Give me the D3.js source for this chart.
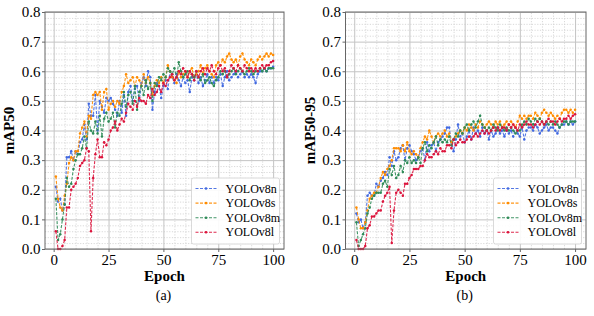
<!DOCTYPE html>
<html>
<head>
<meta charset="utf-8">
<script src="https://cdn.jsdelivr.net/npm/d3@7"></script>
<style>
  body { margin: 0; background: #fff; }
  svg { display: block; }
  text { font-family: "Liberation Serif", "Times New Roman", serif; fill: #000; }
</style>
</head>
<body>
<div id="viz"></div>
<script>
// Epochs 1..100
const epochs = d3.range(1, 101)
const seriesNames = ["YOLOv8n", "YOLOv8s", "YOLOv8m", "YOLOv8l"]
const seriesColors = ["#4169e1", "#ff8c00", "#2e8b57", "#dc143c"]
const xTicks = [0, 25, 50, 75, 100]
const yTicks = [0.0, 0.1, 0.2, 0.3, 0.4, 0.5, 0.6, 0.7, 0.8]

// (a) mAP50
const map50_n = [
  0.21,0.16,0.17,0.13,0.15,0.31,0.31,0.33,0.30,0.33,
  0.32,0.36,0.37,0.42,0.37,0.49,0.45,0.45,0.52,0.40,
  0.50,0.48,0.46,0.51,0.50,0.51,0.49,0.47,0.45,0.50,
  0.46,0.52,0.45,0.53,0.55,0.50,0.54,0.55,0.50,0.56,
  0.58,0.55,0.60,0.58,0.47,0.53,0.56,0.55,0.51,0.55,
  0.57,0.54,0.60,0.58,0.56,0.59,0.57,0.55,0.58,0.56,
  0.57,0.53,0.58,0.57,0.59,0.56,0.58,0.55,0.57,0.59,
  0.56,0.58,0.56,0.58,0.57,0.59,0.55,0.58,0.60,0.57,
  0.58,0.59,0.60,0.58,0.59,0.60,0.58,0.59,0.58,0.59,
  0.58,0.56,0.59,0.60,0.60,0.61,0.60,0.61,0.61,0.615
]
const map50_s = [
  0.245,0.17,0.14,0.13,0.18,0.22,0.29,0.31,0.30,0.33,
  0.33,0.39,0.41,0.43,0.38,0.45,0.44,0.52,0.53,0.52,
  0.53,0.47,0.53,0.54,0.47,0.49,0.50,0.48,0.50,0.49,
  0.53,0.55,0.59,0.56,0.57,0.58,0.55,0.58,0.57,0.55,
  0.59,0.56,0.58,0.56,0.52,0.55,0.57,0.56,0.58,0.56,
  0.58,0.62,0.60,0.58,0.57,0.56,0.60,0.58,0.59,0.60,
  0.58,0.60,0.61,0.58,0.59,0.60,0.62,0.59,0.61,0.62,
  0.60,0.59,0.58,0.62,0.63,0.62,0.64,0.63,0.65,0.66,
  0.64,0.63,0.64,0.62,0.65,0.66,0.64,0.63,0.62,0.64,
  0.63,0.62,0.64,0.65,0.64,0.65,0.66,0.65,0.66,0.655
]
const map50_m = [
  0.17,0.03,0.05,0.10,0.15,0.24,0.21,0.22,0.27,0.30,
  0.32,0.32,0.34,0.38,0.34,0.43,0.40,0.39,0.43,0.39,
  0.45,0.38,0.44,0.46,0.43,0.44,0.46,0.41,0.46,0.45,
  0.49,0.53,0.48,0.52,0.53,0.49,0.55,0.47,0.53,0.55,
  0.52,0.57,0.54,0.56,0.50,0.56,0.55,0.58,0.57,0.59,
  0.58,0.61,0.60,0.59,0.61,0.58,0.63,0.60,0.58,0.59,
  0.60,0.57,0.59,0.58,0.60,0.58,0.57,0.59,0.56,0.57,
  0.58,0.56,0.55,0.57,0.58,0.60,0.59,0.60,0.58,0.59,
  0.60,0.61,0.59,0.60,0.61,0.60,0.59,0.60,0.61,0.60,
  0.59,0.60,0.60,0.61,0.60,0.61,0.60,0.61,0.61,0.61
]
const map50_l = [
  0.06,0.00,0.00,0.01,0.03,0.14,0.14,0.20,0.21,0.22,
  0.24,0.28,0.29,0.30,0.34,0.33,0.06,0.24,0.32,0.37,
  0.31,0.31,0.36,0.35,0.37,0.40,0.41,0.43,0.40,0.42,
  0.44,0.43,0.46,0.49,0.48,0.47,0.50,0.48,0.51,0.50,
  0.50,0.49,0.52,0.51,0.54,0.52,0.53,0.55,0.53,0.56,
  0.55,0.57,0.58,0.59,0.57,0.58,0.60,0.59,0.61,0.60,
  0.58,0.60,0.59,0.57,0.60,0.58,0.60,0.61,0.59,0.61,
  0.60,0.62,0.60,0.59,0.61,0.62,0.60,0.61,0.58,0.60,
  0.62,0.61,0.60,0.62,0.61,0.60,0.62,0.61,0.60,0.61,
  0.60,0.61,0.60,0.61,0.62,0.61,0.62,0.62,0.63,0.635
]

// (b) mAP50-95
const map5095_n = [
  0.12,0.09,0.10,0.07,0.09,0.18,0.19,0.18,0.18,0.22,
  0.21,0.23,0.24,0.26,0.25,0.31,0.28,0.33,0.30,0.31,
  0.34,0.35,0.30,0.34,0.35,0.33,0.32,0.30,0.31,0.33,
  0.34,0.30,0.36,0.33,0.35,0.36,0.33,0.36,0.37,0.38,
  0.39,0.41,0.41,0.36,0.33,0.37,0.42,0.38,0.39,0.36,
  0.38,0.40,0.37,0.41,0.39,0.40,0.38,0.41,0.39,0.40,
  0.37,0.40,0.38,0.39,0.41,0.39,0.40,0.38,0.40,0.39,
  0.40,0.38,0.41,0.39,0.38,0.41,0.37,0.40,0.41,0.41,
  0.40,0.42,0.41,0.39,0.40,0.41,0.42,0.40,0.41,0.41,
  0.40,0.39,0.41,0.42,0.42,0.43,0.42,0.43,0.42,0.43
]
const map5095_s = [
  0.14,0.10,0.07,0.07,0.09,0.13,0.17,0.18,0.19,0.19,
  0.21,0.24,0.26,0.25,0.27,0.28,0.30,0.34,0.34,0.34,
  0.33,0.35,0.33,0.36,0.33,0.32,0.33,0.32,0.31,0.34,
  0.36,0.38,0.37,0.40,0.38,0.36,0.38,0.39,0.38,0.39,
  0.40,0.38,0.39,0.36,0.37,0.38,0.39,0.40,0.39,0.41,
  0.40,0.42,0.41,0.40,0.42,0.41,0.43,0.42,0.41,0.42,
  0.43,0.42,0.41,0.43,0.42,0.43,0.41,0.42,0.43,0.42,
  0.43,0.42,0.41,0.43,0.45,0.44,0.45,0.44,0.45,0.45,
  0.44,0.46,0.45,0.44,0.46,0.47,0.46,0.45,0.46,0.45,
  0.44,0.45,0.44,0.46,0.47,0.47,0.46,0.47,0.46,0.47
]
const map5095_m = [
  0.09,0.01,0.03,0.05,0.07,0.12,0.14,0.17,0.18,0.19,
  0.19,0.19,0.22,0.23,0.21,0.27,0.25,0.28,0.24,0.25,
  0.28,0.26,0.30,0.29,0.31,0.29,0.30,0.29,0.31,0.29,
  0.34,0.36,0.33,0.35,0.34,0.36,0.38,0.35,0.37,0.36,
  0.37,0.36,0.38,0.35,0.37,0.39,0.38,0.40,0.39,0.41,
  0.42,0.40,0.42,0.43,0.41,0.43,0.45,0.42,0.41,0.40,
  0.41,0.40,0.42,0.41,0.40,0.42,0.41,0.40,0.41,0.40,
  0.41,0.40,0.39,0.40,0.40,0.42,0.43,0.42,0.44,0.43,
  0.42,0.44,0.43,0.44,0.43,0.42,0.43,0.42,0.43,0.42,
  0.43,0.42,0.41,0.42,0.43,0.43,0.42,0.43,0.43,0.43
]
const map5095_l = [
  0.03,0.00,0.00,0.00,0.01,0.07,0.08,0.11,0.11,0.12,
  0.13,0.13,0.16,0.18,0.19,0.21,0.02,0.13,0.19,0.20,
  0.19,0.18,0.22,0.22,0.24,0.25,0.27,0.27,0.27,0.28,
  0.28,0.30,0.32,0.31,0.31,0.32,0.33,0.32,0.34,0.33,
  0.33,0.35,0.35,0.34,0.37,0.35,0.36,0.37,0.36,0.36,
  0.37,0.38,0.37,0.38,0.39,0.38,0.39,0.40,0.39,0.40,
  0.39,0.40,0.41,0.40,0.41,0.40,0.41,0.41,0.40,0.42,
  0.41,0.42,0.41,0.40,0.42,0.41,0.42,0.43,0.42,0.42,
  0.41,0.42,0.43,0.42,0.43,0.42,0.43,0.44,0.43,0.43,
  0.42,0.43,0.44,0.43,0.44,0.44,0.45,0.44,0.45,0.455
]

const width = 594
const height = 316

const svg = d3.select("#viz").append("svg")
  .attr("width", width)
  .attr("height", height)

function drawPanel(left, right, series, ylabel, caption) {
  const top = 12, bottom = 249
  const x = d3.scaleLinear().domain([-3.95, 104.95]).range([left, right])
  const y = d3.scaleLinear().domain([0, 0.8]).range([bottom, top])
  const g = svg.append("g")

  // minor grid (dotted)
  g.append("g")
    .attr("transform", `translate(0,${bottom})`)
    .call(d3.axisBottom(x).tickValues(d3.range(0, 101, 5).filter(v => v % 25)).tickSize(-(bottom - top)).tickFormat(""))
    .call(a => a.select(".domain").remove())
    .call(a => a.selectAll("line").attr("stroke", "#cfcfcf").attr("stroke-dasharray", "1.2,1.5").attr("stroke-width", 0.8))
  g.append("g")
    .attr("transform", `translate(${left},0)`)
    .call(d3.axisLeft(y).tickValues(d3.range(0, 41, 1).filter(v => v % 5).map(v => v * 0.02)).tickSize(-(right - left)).tickFormat(""))
    .call(a => a.select(".domain").remove())
    .call(a => a.selectAll("line").attr("stroke", "#cfcfcf").attr("stroke-dasharray", "1.2,1.5").attr("stroke-width", 0.8))

  // major grid
  g.append("g")
    .attr("transform", `translate(0,${bottom})`)
    .call(d3.axisBottom(x).tickValues(xTicks).tickSize(-(bottom - top)).tickFormat(""))
    .call(a => a.select(".domain").remove())
    .call(a => a.selectAll("line").attr("stroke", "#c4c4c4").attr("stroke-width", 1))
  g.append("g")
    .attr("transform", `translate(${left},0)`)
    .call(d3.axisLeft(y).tickValues(yTicks).tickSize(-(right - left)).tickFormat(""))
    .call(a => a.select(".domain").remove())
    .call(a => a.selectAll("line").attr("stroke", "#c4c4c4").attr("stroke-width", 1))

  // lines + markers
  const line = d3.line().x((d, i) => x(epochs[i])).y(d => y(d))
  series.forEach((vals, k) => {
    g.append("path")
      .attr("d", line(vals))
      .attr("fill", "none")
      .attr("stroke", seriesColors[k])
      .attr("stroke-width", 1.1)
      .attr("stroke-dasharray", "3,1.5")
      .attr("opacity", 0.9)
    g.append("g").selectAll("circle")
      .data(vals)
      .join("circle")
      .attr("cx", (d, i) => x(epochs[i]))
      .attr("cy", d => y(d))
      .attr("r", 1.25)
      .attr("fill", seriesColors[k])
  })

  // frame
  g.append("rect")
    .attr("x", left).attr("y", top)
    .attr("width", right - left).attr("height", bottom - top)
    .attr("fill", "none").attr("stroke", "#666").attr("stroke-width", 1)

  // axes
  g.append("g")
    .attr("transform", `translate(0,${bottom})`)
    .call(d3.axisBottom(x).tickValues(xTicks).tickSize(3).tickPadding(2).tickFormat(d3.format("d")))
    .call(a => a.select(".domain").remove())
    .call(a => a.selectAll("line").attr("stroke", "#666"))
    .call(a => a.selectAll("text").style("font-size", "15px").attr("fill", "#000"))
  g.append("g")
    .attr("transform", `translate(${left},0)`)
    .call(d3.axisLeft(y).tickValues(yTicks).tickSize(3).tickPadding(1.5).tickFormat(d3.format(".1f")))
    .call(a => a.select(".domain").remove())
    .call(a => a.selectAll("line").attr("stroke", "#666"))
    .call(a => a.selectAll("text").style("font-size", "15px").attr("fill", "#000"))

  const cx = (left + right) / 2
  g.append("text")
    .attr("x", cx).attr("y", 281)
    .attr("text-anchor", "middle")
    .style("font-size", "15px").style("font-weight", "bold")
    .text("Epoch")
  g.append("text")
    .attr("transform", `translate(${left - 31},${(top + bottom) / 2}) rotate(-90)`)
    .attr("text-anchor", "middle")
    .style("font-size", "15px").style("font-weight", "bold")
    .text(ylabel)
  g.append("text")
    .attr("x", cx - 1).attr("y", 300)
    .attr("text-anchor", "middle")
    .style("font-size", "14px")
    .text(caption)

  // legend
  const lw = 88, lh = 66
  const lx = right - 4.5 - lw, ly = bottom - 5 - lh
  const leg = g.append("g")
  leg.append("rect")
    .attr("x", lx).attr("y", ly).attr("width", lw).attr("height", lh)
    .attr("rx", 2).attr("fill", "#fff").attr("fill-opacity", 0.9)
    .attr("stroke", "#d0d0d0").attr("stroke-width", 0.8)
  seriesNames.forEach((name, k) => {
    const ry = ly + 10.5 + k * 14.6
    leg.append("line")
      .attr("x1", lx + 4).attr("x2", lx + 25)
      .attr("y1", ry).attr("y2", ry)
      .attr("stroke", seriesColors[k]).attr("stroke-width", 1.1)
      .attr("stroke-dasharray", "3,1.5").attr("opacity", 0.9)
    leg.append("circle")
      .attr("cx", lx + 14.5).attr("cy", ry).attr("r", 1.3)
      .attr("fill", seriesColors[k])
    leg.append("text")
      .attr("x", lx + 34).attr("y", ry + 4)
      .style("font-size", "12px")
      .text(name)
  })
}

drawPanel(45, 284, [map50_n, map50_s, map50_m, map50_l], "mAP50", "(a)")
drawPanel(345.5, 586, [map5095_n, map5095_s, map5095_m, map5095_l], "mAP50-95", "(b)")
</script>
</body>
</html>
